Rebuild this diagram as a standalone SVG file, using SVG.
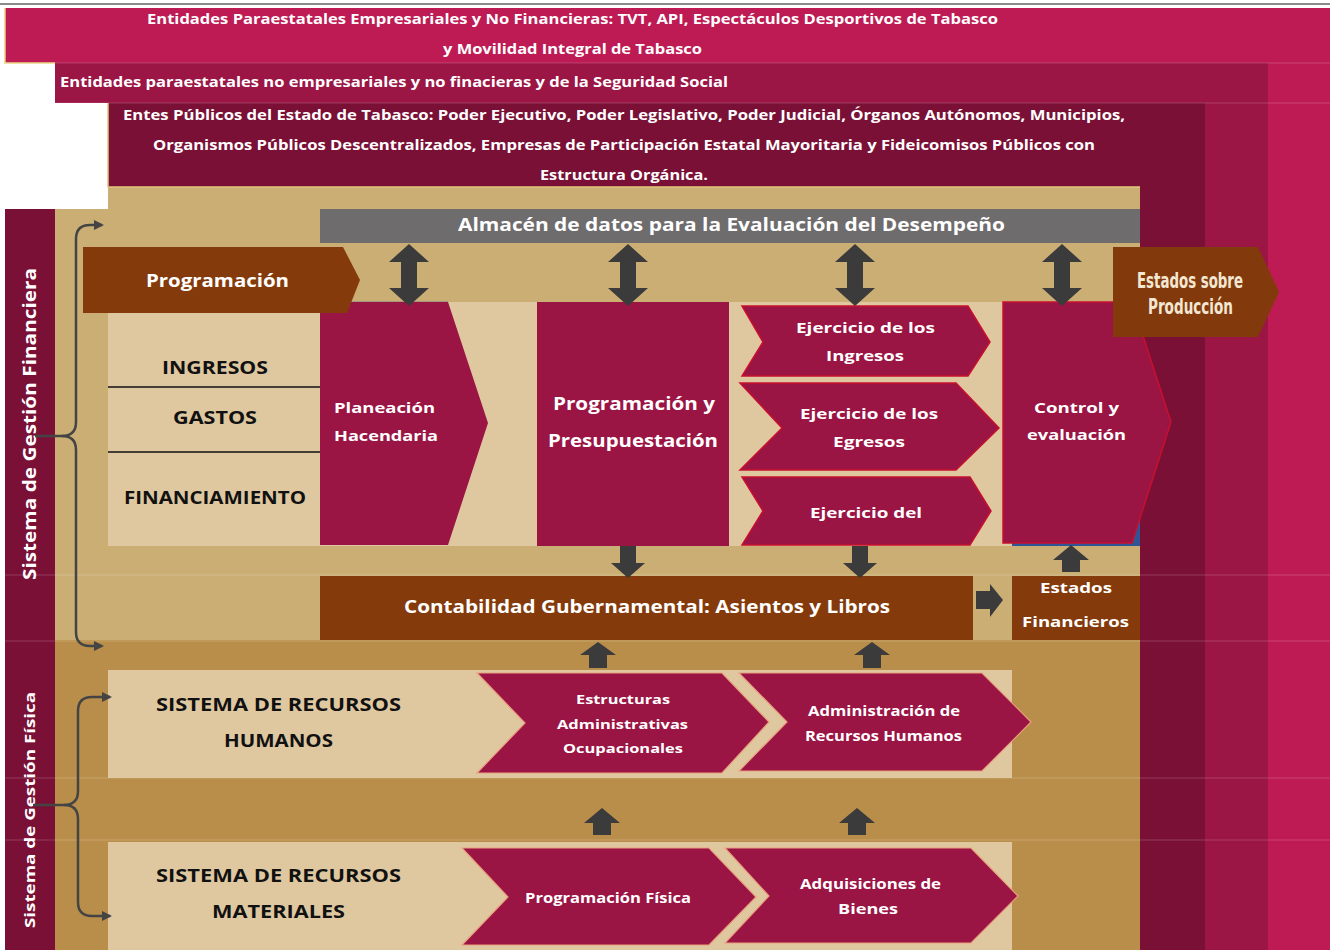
<svg xmlns="http://www.w3.org/2000/svg" width="1330" height="950" viewBox="0 0 1330 950">
<defs>
<style>
.w{font-family:"Open Sans","DejaVu Sans",sans-serif;font-weight:700;fill:#ffffff}
.k{font-family:"Open Sans","DejaVu Sans",sans-serif;font-weight:700;fill:#111111}
.c{font-family:"DejaVu Sans Condensed","Liberation Sans Narrow","Open Sans",sans-serif;font-weight:700;fill:#F3E7D3}
.proc{fill:#9A1444}
.procr{fill:#9A1444;stroke:#C8102E;stroke-width:1.5}
.procs{fill:#9A1444;stroke:#E9A07E;stroke-width:1.2}
.brown{fill:#843A0A}
.blk{fill:#3B3B3B}
.br{fill:none;stroke:#444444;stroke-width:2.5}
.grid{stroke:#ffffff;stroke-opacity:0.18;stroke-width:1}
</style>
<marker id="ah" viewBox="0 0 10 10" refX="8" refY="5" markerWidth="4" markerHeight="4" orient="auto" markerUnits="strokeWidth">
<path d="M0,0 L10,5 L0,10 Z" fill="#444444"/>
</marker>
</defs>

<rect width="1330" height="950" fill="#ffffff"/>
<rect x="0" y="3" width="1330" height="2" fill="#8a8a8a"/>

<g id="layers">
<rect x="5" y="8" width="1325" height="55" fill="#BE1A54"/>
<rect x="1268" y="63" width="62" height="887" fill="#BE1A54"/>
<rect x="55" y="63" width="1213" height="40" fill="#9B1545"/>
<rect x="1205" y="103" width="63" height="847" fill="#9B1545"/>
<rect x="108" y="103" width="1097" height="84" fill="#7A1036"/>
<rect x="1140" y="187" width="65" height="763" fill="#7A1036"/>
<rect x="108" y="187" width="1032" height="22" fill="#CBAE74"/>
<rect x="55" y="209" width="1085" height="431" fill="#CBAE74"/>
<rect x="55" y="640" width="1085" height="310" fill="#B98E4A"/>
<rect x="5" y="209" width="50" height="741" fill="#7A1036"/>
<path d="M5,8 L5,63 L55,63" fill="none" stroke="#E9D27A" stroke-width="1.5"/>
<path d="M108,103 L108,187 L1140,187" fill="none" stroke="#E2C67E" stroke-width="1.5"/>
<line class="grid" x1="5" y1="63" x2="1330" y2="63"/>
<line class="grid" x1="55" y1="103" x2="1330" y2="103"/>
<line class="grid" x1="5" y1="575" x2="1330" y2="575"/>
<line class="grid" x1="5" y1="641" x2="1330" y2="641"/>
<line class="grid" x1="5" y1="778" x2="1330" y2="778"/>
<line class="grid" x1="5" y1="840" x2="1330" y2="840"/>
<text class="w" x="147" y="24" font-size="14" textLength="851" lengthAdjust="spacingAndGlyphs">Entidades Paraestatales Empresariales y No Financieras: TVT, API, Espectáculos Desportivos de Tabasco</text>
<text class="w" x="443" y="54" font-size="14" textLength="259" lengthAdjust="spacingAndGlyphs">y Movilidad Integral de Tabasco</text>
<text class="w" x="60" y="87" font-size="14" textLength="668" lengthAdjust="spacingAndGlyphs">Entidades paraestatales no empresariales y no finacieras y de la Seguridad Social</text>
<text class="w" x="123" y="120" font-size="14" textLength="1002" lengthAdjust="spacingAndGlyphs">Entes Públicos del Estado de Tabasco: Poder Ejecutivo, Poder Legislativo, Poder Judicial, Órganos Autónomos, Municipios,</text>
<text class="w" x="153" y="150" font-size="14" textLength="942" lengthAdjust="spacingAndGlyphs">Organismos Públicos Descentralizados, Empresas de Participación Estatal Mayoritaria y Fideicomisos Públicos con</text>
<text class="w" x="540" y="180" font-size="14" textLength="168" lengthAdjust="spacingAndGlyphs">Estructura Orgánica.</text>
</g>

<g id="sistema-financiera">
<text class="w" font-size="17" text-anchor="middle" transform="translate(36,424) rotate(-90)" textLength="312" lengthAdjust="spacingAndGlyphs">Sistema de Gestión Financiera</text>
</g>
<g id="sistema-fisica">
<text class="w" font-size="15" text-anchor="middle" transform="translate(35,810) rotate(-90)" textLength="236" lengthAdjust="spacingAndGlyphs">Sistema de Gestión Física</text>
</g>

<g id="almacen">
<rect x="320" y="209" width="820" height="34" fill="#6E6C6D"/>
<text class="w" x="458" y="231" font-size="18" textLength="547" lengthAdjust="spacingAndGlyphs">Almacén de datos para la Evaluación del Desempeño</text>
</g>

<g id="tabla-financiera">
<rect x="108" y="302" width="1032" height="244" fill="#DFC8A0"/>
<rect x="1012" y="520" width="128" height="26" fill="#2F5597"/>
<line x1="350" y1="302.5" x2="448" y2="302.5" stroke="#3A5A9A" stroke-width="1.5"/>
<line x1="108" y1="387" x2="320" y2="387" stroke="#111" stroke-width="1.5"/>
<line x1="108" y1="452" x2="320" y2="452" stroke="#111" stroke-width="1.5"/>
<text class="k" x="162" y="374" font-size="17" textLength="106" lengthAdjust="spacingAndGlyphs">INGRESOS</text>
<text class="k" x="173" y="424" font-size="17" textLength="84" lengthAdjust="spacingAndGlyphs">GASTOS</text>
<text class="k" x="124" y="504" font-size="17" textLength="182" lengthAdjust="spacingAndGlyphs">FINANCIAMIENTO</text>
</g>

<g id="planeacion">
<path class="proc" d="M320,302 L448,302 L488,423 L448,545 L320,545 Z"/>
<text class="w" x="334" y="413" font-size="15" textLength="101" lengthAdjust="spacingAndGlyphs">Planeación</text>
<text class="w" x="334" y="441" font-size="15" textLength="104" lengthAdjust="spacingAndGlyphs">Hacendaria</text>
</g>

<g id="programacion">
<path class="brown" d="M83,247 L343,247 L360,280 L347,313 L83,313 Z"/>
<text class="w" x="146" y="287" font-size="17" textLength="143" lengthAdjust="spacingAndGlyphs">Programación</text>
</g>

<g id="programacion-presupuestacion">
<rect class="proc" x="537" y="302" width="192" height="244"/>
<text class="w" x="553" y="410" font-size="18" textLength="162" lengthAdjust="spacingAndGlyphs">Programación y</text>
<text class="w" x="548" y="447" font-size="18" textLength="170" lengthAdjust="spacingAndGlyphs">Presupuestación</text>
</g>

<g id="ejercicio-ingresos">
<path class="procr" d="M742,306 L968,306 L990,342 L968,376 L742,376 L763,342 Z"/>
<text class="w" x="796" y="333" font-size="15" textLength="139" lengthAdjust="spacingAndGlyphs">Ejercicio de los</text>
<text class="w" x="826" y="361" font-size="15" textLength="78" lengthAdjust="spacingAndGlyphs">Ingresos</text>
</g>

<g id="ejercicio-egresos">
<path class="procr" d="M740,383 L956,383 L999,428 L956,470 L740,470 L782,428 Z"/>
<text class="w" x="800" y="419" font-size="15" textLength="138" lengthAdjust="spacingAndGlyphs">Ejercicio de los</text>
<text class="w" x="833" y="447" font-size="15" textLength="72" lengthAdjust="spacingAndGlyphs">Egresos</text>
</g>

<g id="ejercicio-del">
<path class="procr" d="M742,477 L970,477 L991,511 L970,545 L742,545 L763,511 Z"/>
<text class="w" x="810" y="518" font-size="15" textLength="112" lengthAdjust="spacingAndGlyphs">Ejercicio del</text>
</g>

<g id="control-evaluacion">
<path class="procr" d="M1003,302 L1132,302 L1171,422 L1132,543 L1003,543 Z"/>
<text class="w" x="1034" y="413" font-size="15" textLength="85" lengthAdjust="spacingAndGlyphs">Control y</text>
<text class="w" x="1027" y="440" font-size="15" textLength="99" lengthAdjust="spacingAndGlyphs">evaluación</text>
</g>

<g id="estados-produccion">
<path fill="#823A0C" d="M1113,247 L1258,247 L1279,292 L1258,337 L1113,337 Z"/>
<text class="c" x="1137" y="288" font-size="21" textLength="106" lengthAdjust="spacingAndGlyphs">Estados sobre</text>
<text class="c" x="1148" y="314" font-size="21" textLength="85" lengthAdjust="spacingAndGlyphs">Producción</text>
</g>

<g id="contabilidad">
<rect class="brown" x="320" y="576" width="653" height="64"/>
<text class="w" x="404" y="613" font-size="17" textLength="486" lengthAdjust="spacingAndGlyphs">Contabilidad Gubernamental: Asientos y Libros</text>
</g>

<g id="estados-financieros">
<rect class="brown" x="1012" y="576" width="128" height="64"/>
<text class="w" x="1040" y="593" font-size="15" textLength="72" lengthAdjust="spacingAndGlyphs">Estados</text>
<text class="w" x="1022" y="627" font-size="15" textLength="107" lengthAdjust="spacingAndGlyphs">Financieros</text>
</g>

<g id="recursos-humanos">
<rect x="108" y="670" width="904" height="108" fill="#DFC8A0"/>
<text class="k" x="156" y="711" font-size="18" textLength="245" lengthAdjust="spacingAndGlyphs">SISTEMA DE RECURSOS</text>
<text class="k" x="224" y="747" font-size="18" textLength="109" lengthAdjust="spacingAndGlyphs">HUMANOS</text>
</g>

<g id="estructuras">
<path class="procs" d="M477,673 L722,673 L769,722 L722,773 L477,773 L525,723 Z"/>
<text class="w" x="576" y="704" font-size="13" textLength="94" lengthAdjust="spacingAndGlyphs">Estructuras</text>
<text class="w" x="557" y="729" font-size="13" textLength="131" lengthAdjust="spacingAndGlyphs">Administrativas</text>
<text class="w" x="563" y="753" font-size="13" textLength="120" lengthAdjust="spacingAndGlyphs">Ocupacionales</text>
</g>

<g id="administracion-rh">
<path class="procs" d="M739,673 L982,673 L1031,722 L982,771 L739,771 L787,722 Z"/>
<text class="w" x="808" y="716" font-size="14" textLength="152" lengthAdjust="spacingAndGlyphs">Administración de</text>
<text class="w" x="805" y="741" font-size="14" textLength="157" lengthAdjust="spacingAndGlyphs">Recursos Humanos</text>
</g>

<g id="recursos-materiales">
<rect x="108" y="842" width="904" height="108" fill="#DFC8A0"/>
<text class="k" x="156" y="882" font-size="18" textLength="245" lengthAdjust="spacingAndGlyphs">SISTEMA DE RECURSOS</text>
<text class="k" x="212" y="918" font-size="18" textLength="133" lengthAdjust="spacingAndGlyphs">MATERIALES</text>
</g>

<g id="programacion-fisica">
<path class="procs" d="M462,848 L709,848 L756,897 L709,945 L462,945 L508,897 Z"/>
<text class="w" x="525" y="903" font-size="14" textLength="166" lengthAdjust="spacingAndGlyphs">Programación Física</text>
</g>

<g id="adquisiciones">
<path class="procs" d="M725,848 L971,848 L1018,896 L971,943 L725,943 L769,896 Z"/>
<text class="w" x="800" y="889" font-size="14" textLength="141" lengthAdjust="spacingAndGlyphs">Adquisiciones de</text>
<text class="w" x="838" y="914" font-size="14" textLength="60" lengthAdjust="spacingAndGlyphs">Bienes</text>
</g>

<g id="connectors">
<path class="blk" d="M409,244 L429,262 L417,262 L417,288 L429,288 L409,306 L389,288 L401,288 L401,262 L389,262 Z"/>
<path class="blk" d="M628,244 L648,262 L636,262 L636,288 L648,288 L628,306 L608,288 L620,288 L620,262 L608,262 Z"/>
<path class="blk" d="M855,244 L875,262 L863,262 L863,288 L875,288 L855,306 L835,288 L847,288 L847,262 L835,262 Z"/>
<path class="blk" d="M1062,244 L1082,262 L1070,262 L1070,288 L1082,288 L1062,306 L1042,288 L1054,288 L1054,262 L1042,262 Z"/>
<path class="blk" d="M620,546 L636,546 L636,563 L645,563 L628,578 L611,563 L620,563 Z"/>
<path class="blk" d="M852,546 L868,546 L868,563 L877,563 L860,578 L843,563 L852,563 Z"/>
<path class="blk" d="M1071,545 L1089,560 L1080,560 L1080,572 L1062,572 L1062,560 L1053,560 Z"/>
<path class="blk" d="M976,591 L990,591 L990,584 L1003,600 L990,617 L990,609 L976,609 Z"/>
<path class="blk" d="M598,642 L616,655 L607,655 L607,668 L589,668 L589,655 L580,655 Z"/>
<path class="blk" d="M872,642 L890,655 L881,655 L881,668 L863,668 L863,655 L854,655 Z"/>
<path class="blk" d="M602,808 L620,823 L611,823 L611,835 L593,835 L593,823 L584,823 Z"/>
<path class="blk" d="M857,808 L875,823 L866,823 L866,835 L848,835 L848,823 L839,823 Z"/>
<path class="br" d="M35,436 L62,436 Q76,436 76,422 L76,239 Q76,225 90,225 L102,225" marker-end="url(#ah)"/>
<path class="br" d="M62,436 Q76,436 76,450 L76,632 Q76,646 90,646 L102,646" marker-end="url(#ah)"/>
<path class="br" d="M33,805 L64,805 Q78,805 78,791 L78,711 Q78,697 92,697 L110,697" marker-end="url(#ah)"/>
<path class="br" d="M64,805 Q78,805 78,819 L78,902 Q78,916 92,916 L110,916" marker-end="url(#ah)"/>
</g>
</svg>
